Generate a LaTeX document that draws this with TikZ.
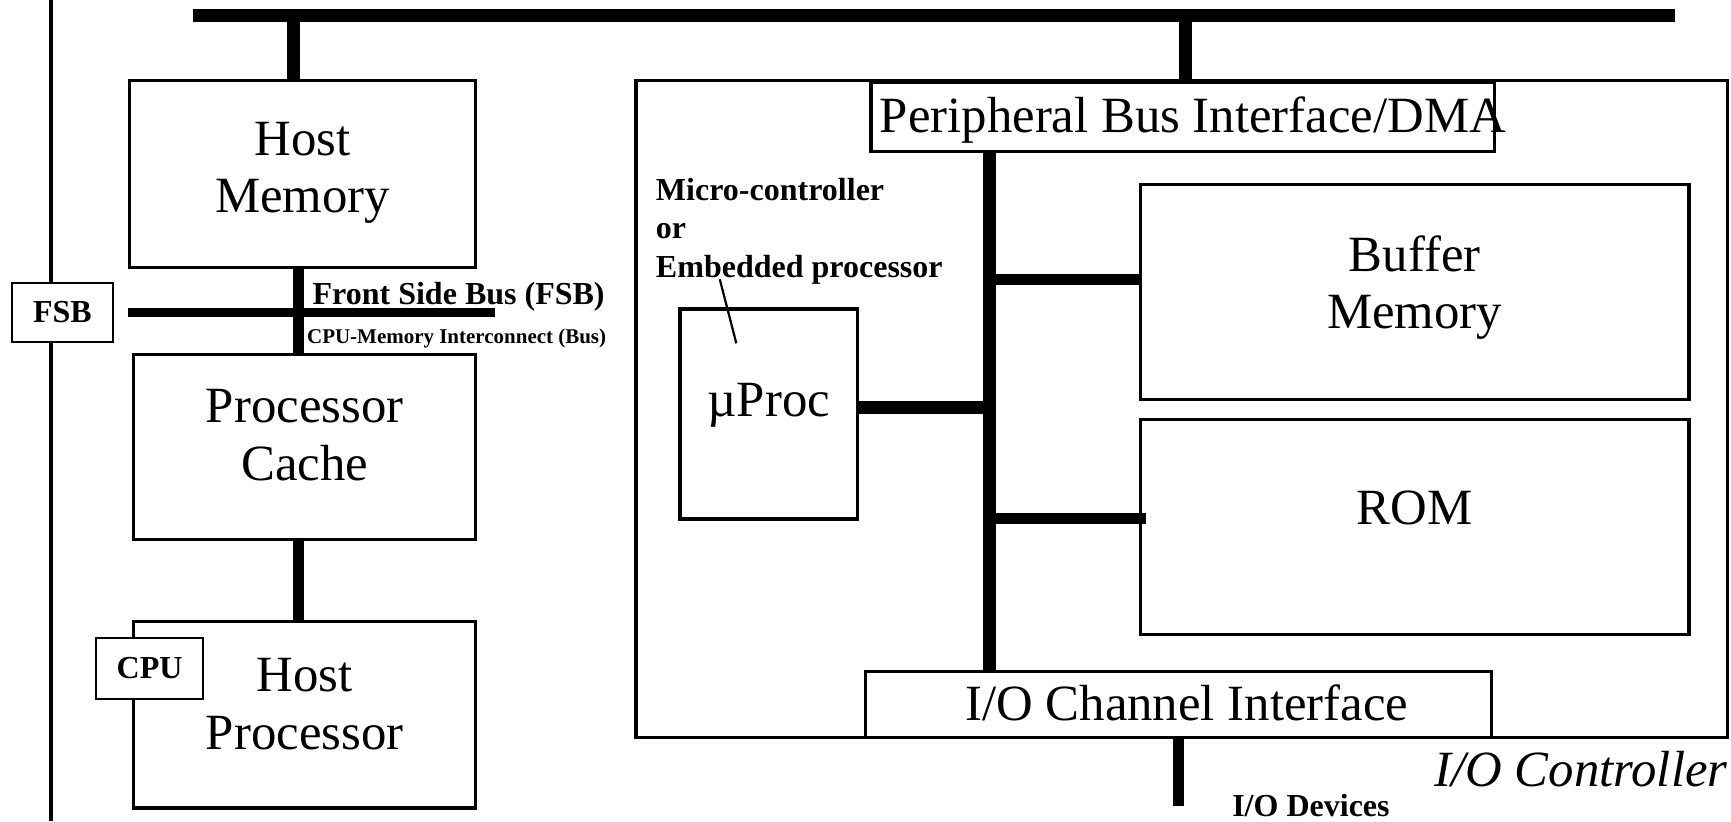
\documentclass[tikz,border=0pt]{standalone}
\usepackage{fontspec}
\setmainfont{Liberation Serif}
\newcommand\bigtext{\fontsize{46}{52}\selectfont}
\newcommand\tagtext{\fontsize{29}{35}\selectfont\bfseries}
\newcommand\smalltext{\fontsize{19}{23}\selectfont\bfseries}
\begin{document}
\begin{tikzpicture}[x=1pt, y=-1pt,
  blk/.style={draw, line width=3pt, inner sep=0pt, align=center, text depth=20pt, font=\bigtext},
  tagbox/.style={draw, fill=white, line width=2pt, inner sep=0pt, font=\tagtext},
  bus/.style={line width=12pt},
  lbl/.style={inner sep=0pt}]
  \useasboundingbox (0,0) rectangle (1568,744);
  \coordinate (railT) at (46,0);
  \coordinate (railB) at (46,744);
  \coordinate (busL) at (175,14);
  \coordinate (busR) at (1517,14);
  \coordinate (fsbR) at (448,283);
  \coordinate (ibus) at (896,0);
  \coordinate (iodev) at (1067.5,730);
  \coordinate (leadA) at (652,253);
  \coordinate (leadB) at (667,311);

  \draw[line width=4pt] (railT) -- (railB);
  \draw[bus] (busL) -- (busR);

  \node[blk, minimum width=314pt, minimum height=169pt, text depth=12pt] (hostmem) at (274,157.5) {Host\\Memory};
  \node[blk, minimum width=310pt, minimum height=168pt, text depth=22pt] (cache) at (276,405) {Processor\\Cache};
  \node[blk, minimum width=310pt, minimum height=169pt] (hostproc) at (276,647.5) {Host\\Processor};
  \node[tagbox, minimum width=97pt, minimum height=55pt] (cpu) at (135.5,605.5) {CPU};
  \node[tagbox, minimum width=91pt, minimum height=54pt] (fsb) at (56.5,283) {FSB};

  \draw[bus] ([xshift=-8pt]hostmem.north) -- ([xshift=-8pt]hostmem.north |- busL);
  \draw[bus, line width=10pt] ([xshift=-4pt]hostmem.south) -- ([xshift=-4pt]hostmem.south |- cache.north);
  \draw[bus, line width=10pt] ([xshift=-6pt]cache.south) -- ([xshift=-6pt]cache.south |- hostproc.north);
  \draw[line width=8pt] (hostmem.west |- fsb) -- (fsbR);
  \node[lbl, font=\tagtext, anchor=base west] (fsbtxt) at (283,276) {Front Side Bus (FSB)};
  \node[lbl, font=\smalltext, anchor=base west] (cmitxt) at (278,311) {CPU-Memory Interconnect (Bus)};

  \node[blk, minimum width=989pt, minimum height=595pt] (ioctl) at (1070.5,370.5) {};
  \node[blk, minimum width=565pt, minimum height=62pt, inner xsep=8pt, text depth=4pt] (pbi) at (1071.5,106) {\makebox[549pt][l]{Peripheral Bus Interface/DMA}};
  \node[blk, minimum width=497pt, minimum height=195pt, text depth=18pt] (bufmem) at (1281.5,264.5) {Buffer\\Memory};
  \node[blk, minimum width=497pt, minimum height=195pt, text depth=35pt] (rom) at (1281.5,477.5) {ROM};
  \node[blk, minimum width=161pt, minimum height=190pt, text depth=26pt] (uproc) at (696.5,375) {µProc};
  \node[blk, minimum width=567pt, minimum height=60pt, text depth=4pt] (ioch) at (1067.5,638) {\hspace*{15pt}I/O Channel Interface};
  \node[lbl, font=\tagtext, align=left, anchor=north west] (mctxt) at (594,161) {Micro-controller\\or\\Embedded processor};
  \node[lbl, font=\bigtext\itshape, anchor=base east] (ioctltxt) at (1565,712) {I/O Controller};
  \node[lbl, font=\tagtext, anchor=base west] (iodevtxt) at (1116,740) {I/O Devices};

  \draw[bus] ([xshift=2.5pt]pbi.north) -- ([xshift=2.5pt]pbi.north |- busL);
  \draw[bus] (pbi.south -| ibus) -- (ioch.north -| ibus);
  \draw[bus] ([yshift=6pt]uproc.east) -- ([yshift=6pt]uproc.east -| ibus);
  \draw[bus, line width=10pt] ([yshift=11.5pt]bufmem.west -| ibus) -- ([yshift=11.5pt]bufmem.west);
  \draw[bus, line width=10pt] ([yshift=7.5pt]rom.west -| ibus) -- ([xshift=7pt, yshift=7.5pt]rom.west);
  \draw[bus, line width=10pt] (ioch.south) -- (iodev);
  \draw[line width=2pt] (leadA) -- (leadB);
\end{tikzpicture}
\end{document}
